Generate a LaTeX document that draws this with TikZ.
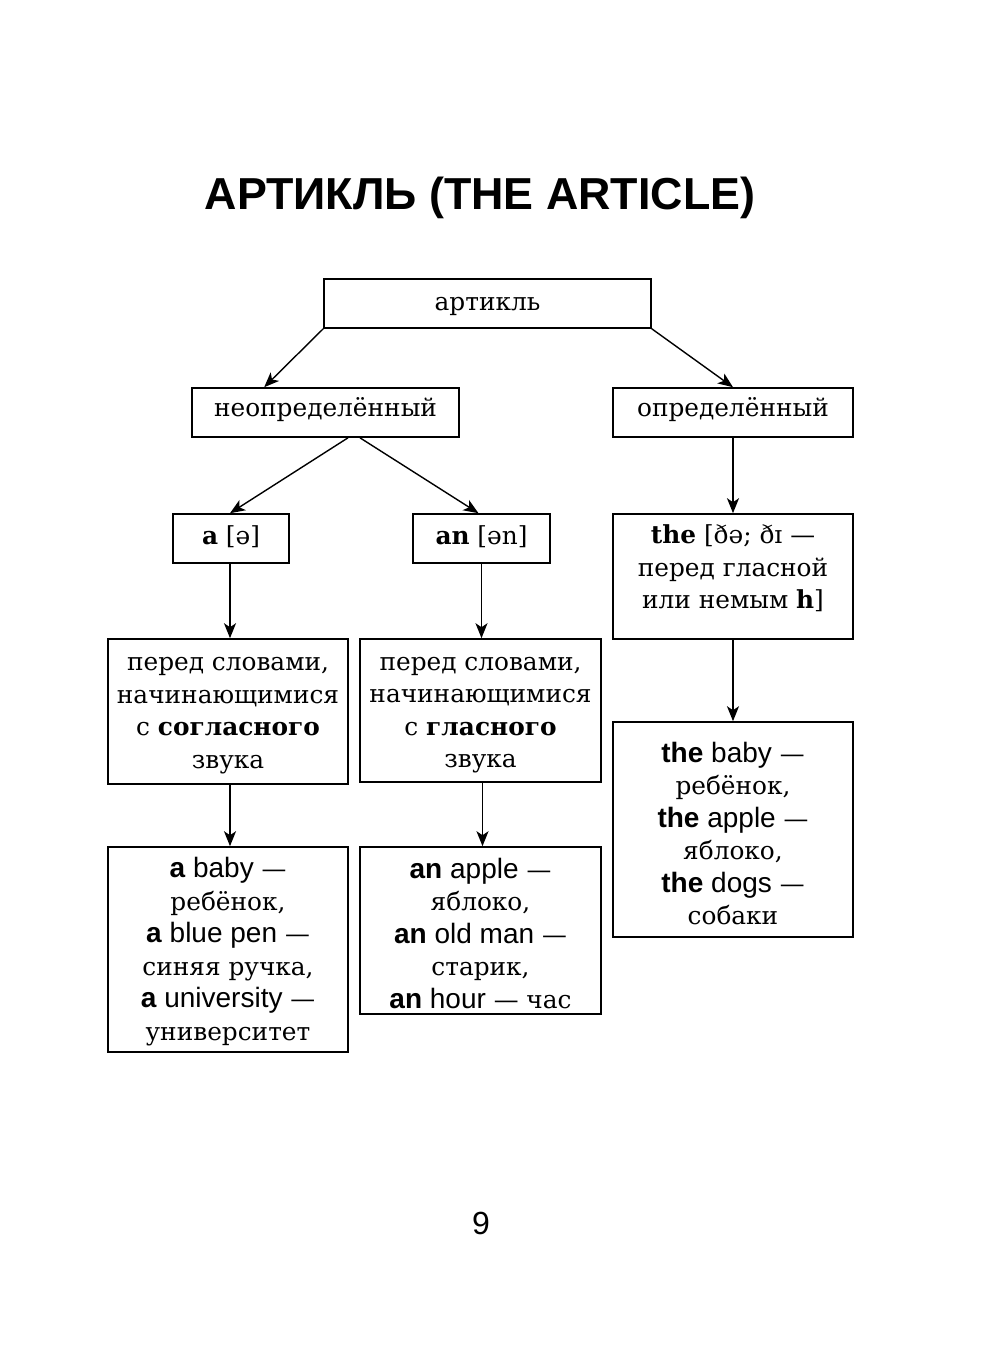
\documentclass[tikz,border=0pt]{standalone}
\usepackage{fontspec}
\setmainfont{DejaVu Serif}
\setsansfont{Liberation Sans}
\usetikzlibrary{arrows.meta}
\newcommand{\sfw}[2]{{\sffamily\fontsize{14}{16.25}\selectfont\textbf{#1} #2}}
\begin{document}
\begin{tikzpicture}[x=0.5pt,y=-0.5pt,
  box/.style={draw, line width=0.8pt, inner sep=0pt},
  txt/.style={inner sep=0pt, align=center, font=\fontsize{12.4}{16.25}\selectfont},
  arr/.style={-{Stealth[length=7.5pt,width=6pt,inset=2pt]}, line width=0.7pt}]
\useasboundingbox (0,0) rectangle (1000,1346);
\node[font=\sffamily\bfseries\fontsize{22.4}{28}\selectfont] (title) at (480,198) {АРТИКЛЬ (THE ARTICLE)};
% boxes
\node[box, minimum width=163.5pt, minimum height=24.5pt] (art) at (487.5,303.5) {};
\node[box, minimum width=133.5pt, minimum height=24.5pt] (neo) at (325.5,412.5) {};
\node[box, minimum width=120pt, minimum height=24.5pt] (opr) at (733,412.5) {};
\node[box, minimum width=58pt, minimum height=24.5pt] (a) at (231,538.5) {};
\node[box, minimum width=68.5pt, minimum height=24.5pt] (an) at (481.5,538.5) {};
\node[box, minimum width=120pt, minimum height=62.5pt] (the) at (733,576.5) {};
\node[box, minimum width=120pt, minimum height=72.5pt] (lt) at (228,711.5) {};
\node[box, minimum width=120.5pt, minimum height=71.5pt] (mt) at (480.5,710.5) {};
\node[box, minimum width=120pt, minimum height=102.5pt] (lex) at (228,949.5) {};
\node[box, minimum width=120.5pt, minimum height=83.5pt] (mex) at (480.5,930.5) {};
\node[box, minimum width=120pt, minimum height=107.5pt] (rex) at (733,829.5) {};
% texts
\node[txt] (artT) at (487.5,306) {артикль};
\node[txt] (neoT) at (325.5,410) {неопределённый};
\node[txt] (oprT) at (733,410) {определённый};
\node[txt] (aT) at (231,536.5) {\textbf{a} [ə]};
\node[txt] (anT) at (481.5,536.5) {\textbf{an} [ən]};
\node[txt] (theT) at (733,568.5) {\textbf{the} [ðə; ðɪ —\\перед гласной\\или немым \textbf{h}]};
\node[txt] (ltT) at (228,715.5) {перед словами,\\начинающимися\\с \textbf{согласного}\\звука};
\node[txt] (mtT) at (480.5,715) {перед словами,\\начинающимися\\с \textbf{гласного}\\звука};
\node[txt] (lexT) at (228,951.5) {\sfw{a}{baby} —\\ребёнок,\\\sfw{a}{blue pen} —\\синяя ручка,\\\sfw{a}{university} —\\университет};
\node[txt] (mexT) at (480.5,933.5) {\sfw{an}{apple} —\\яблоко,\\\sfw{an}{old man} —\\старик,\\\sfw{an}{hour} — час};
\node[txt] (rexT) at (733,833.5) {\sfw{the}{baby} —\\ребёнок,\\\sfw{the}{apple} —\\яблоко,\\\sfw{the}{dogs} —\\собаки};
\node[font=\sffamily\fontsize{16}{19}\selectfont] (pg) at (481,1223) {9};
% connectors
\draw[arr] (art.south west) -- ([xshift=36.5pt]neo.north west);
\draw[arr] (art.south east) -- (opr.north);
\draw[arr] ([xshift=11.25pt]neo.south) -- ([xshift=-0.5pt]a.north);
\draw[arr] ([xshift=17.25pt]neo.south) -- ([xshift=-1.5pt]an.north);
\draw[arr] (opr.south) -- (the.north);
\draw[arr] ([xshift=-0.5pt]a.south) -- ([xshift=-0.5pt]a.south |- lt.north);
\draw[arr] (an.south) -- (an.south |- mt.north);
\draw[arr] (the.south) -- (rex.north);
\draw[arr] ([xshift=1pt]lt.south) -- ([xshift=1pt]lex.north);
\draw[arr] ([xshift=1pt]mt.south) -- ([xshift=1pt]mex.north);
\end{tikzpicture}
\end{document}
